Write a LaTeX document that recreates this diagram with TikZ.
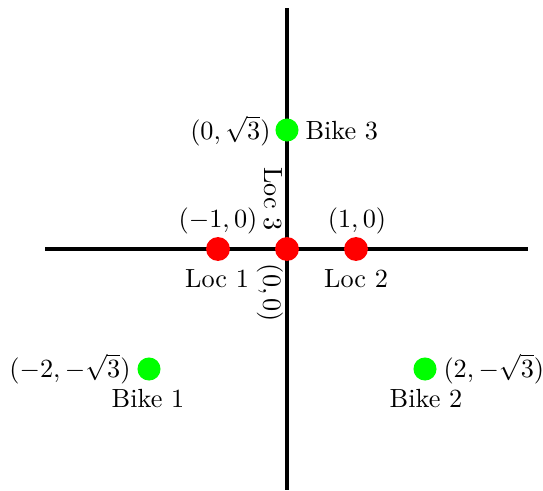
\documentclass[tikz,border=0pt]{standalone}
\begin{document}
\begin{tikzpicture}[x=0.381pt,y=-0.381pt,
  axis/.style={line width=1.15pt},
  reddot/.style={circle,fill=red,minimum size=9.1pt,inner sep=0pt},
  greendot/.style={circle,fill=green,minimum size=8.8pt,inner sep=0pt},
  lbl/.style={inner sep=0pt}]
\useasboundingbox (0,0) rectangle (543,491);
\coordinate (hl) at (45,249);
\coordinate (hr) at (528,249);
\coordinate (vt) at (287,8);
\coordinate (vb) at (287,490);
\draw[axis] (hl) -- (hr);
\draw[axis] (vt) -- (vb);
\node[reddot] (l1) at (218,249) {};
\node[reddot] (l3) at (287,249) {};
\node[reddot] (l2) at (356,249) {};
\node[greendot] (b3) at (287,130) {};
\node[greendot] (b1) at (149,369) {};
\node[greendot] (b2) at (425,369) {};
\node[lbl] (t1a) at (218,221) {$(-1,0)$};
\node[lbl] (t1b) at (217,279) {Loc 1};
\node[lbl] (t2a) at (357,221) {$(1,0)$};
\node[lbl] (t2b) at (356,279) {Loc 2};
\node[lbl,rotate=-90] (t3b) at (273,199) {Loc 3};
\node[lbl,rotate=-90] (t3a) at (270,293) {$(0,0)$};
\node[lbl,anchor=east] (tb3a) at (271,131) {$(0,\sqrt{3})$};
\node[lbl,anchor=west] (tb3b) at (305,131) {Bike 3};
\node[lbl,anchor=east] (tb1a) at (131,369) {$(-2,-\sqrt{3})$};
\node[lbl] (tb1b) at (148,399) {Bike 1};
\node[lbl,anchor=west] (tb2a) at (443,369) {$(2,-\sqrt{3})$};
\node[lbl] (tb2b) at (426,399) {Bike 2};
\end{tikzpicture}
\end{document}
